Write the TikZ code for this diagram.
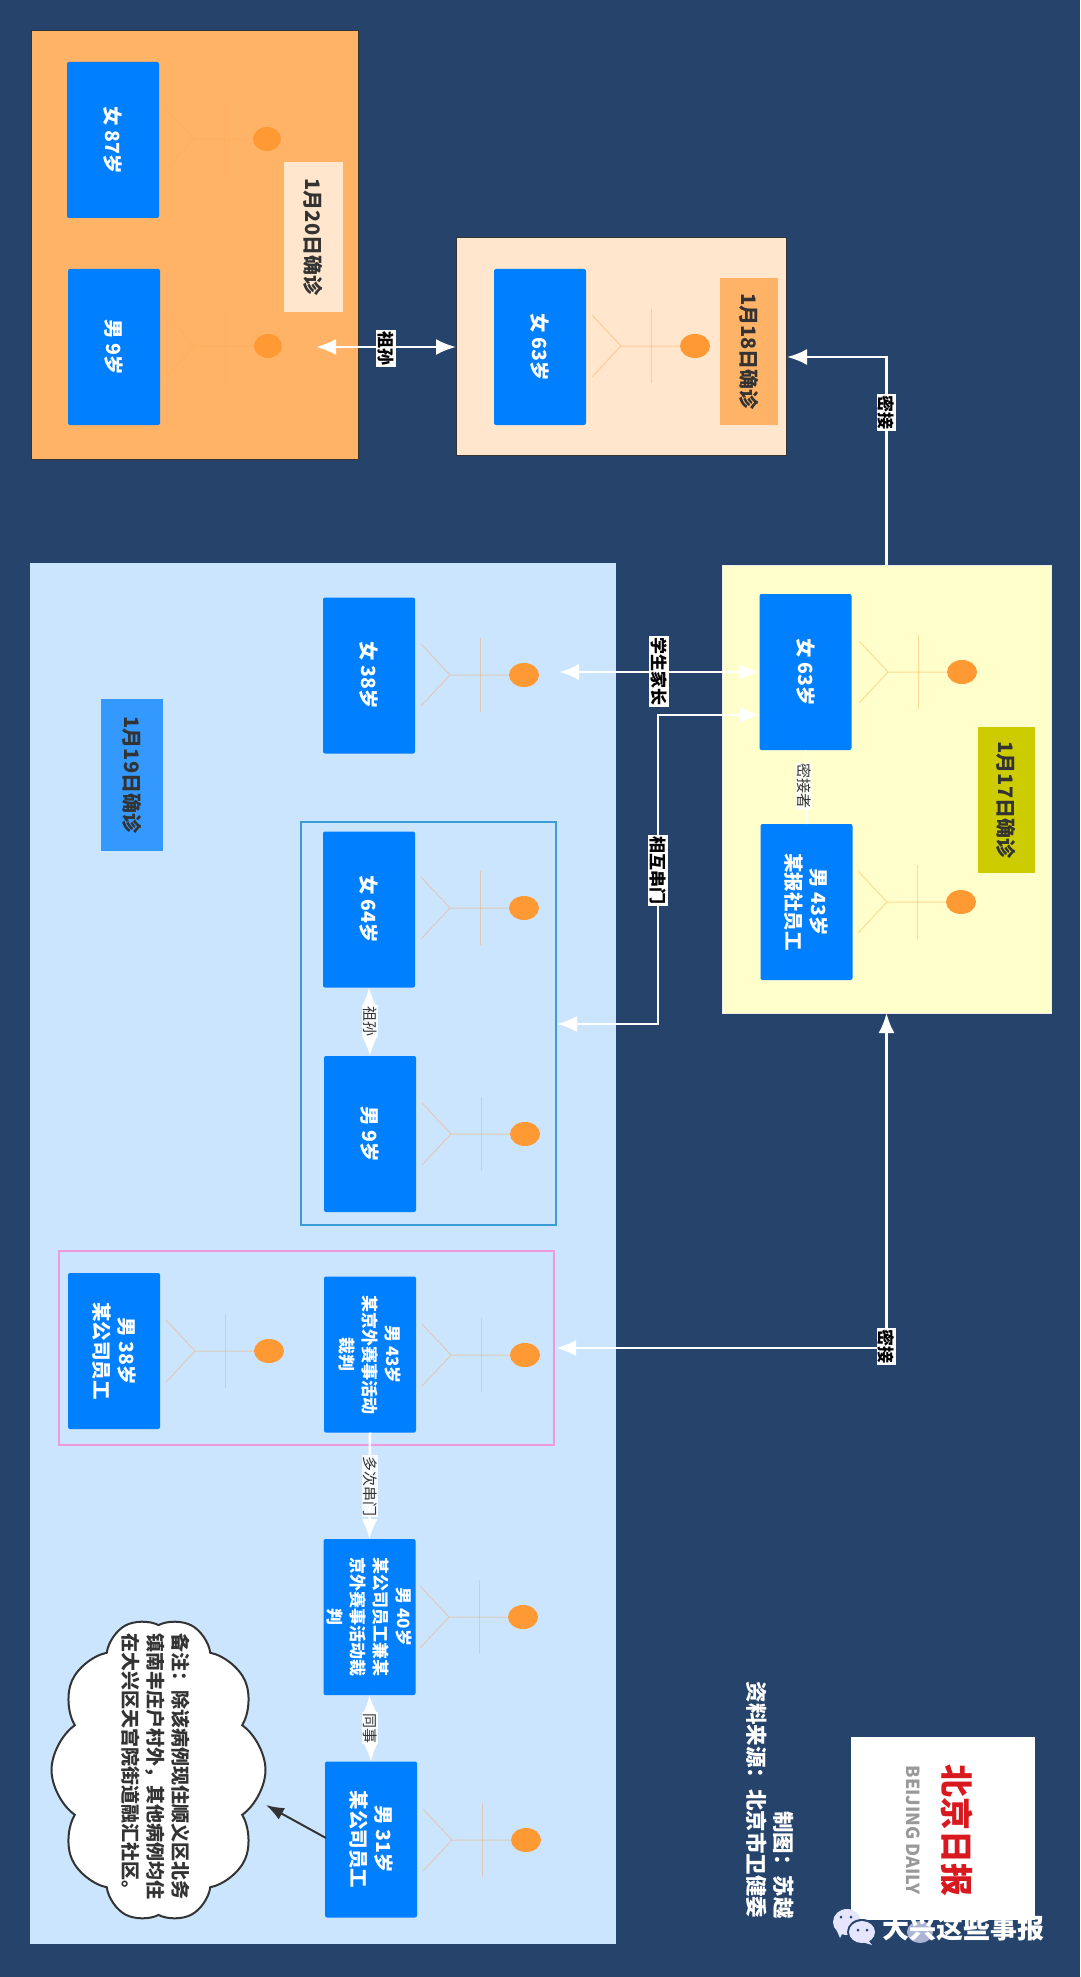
\documentclass[tikz,border=0pt]{standalone}
\usepackage{fontspec}
\setmainfont{Noto Sans CJK SC}
\usetikzlibrary{arrows.meta,shapes.geometric,shapes.symbols}

\definecolor{page}{HTML}{25436B}
\definecolor{group_orange}{HTML}{FFB366}
\definecolor{group_peach}{HTML}{FFE6CC}
\definecolor{group_yellow}{HTML}{FFFFCC}
\definecolor{group_blue}{HTML}{CCE5FF}
\definecolor{box_blue}{HTML}{007FFF}
\definecolor{head_orange}{HTML}{FF9933}
\definecolor{frame_teal}{HTML}{3B9DD3}
\definecolor{frame_pink}{HTML}{EE99DD}
\definecolor{ink}{HTML}{333333}

\begin{document}
\begin{tikzpicture}
  [x=1pt, y=-1pt]
  \tikzstyle{group} = [rectangle, outer sep=0pt, inner sep=0pt];
  \tikzstyle{blue_box} = [rectangle, rotate=-90, fill=box_blue, rounded corners=2pt, outer sep=0pt, inner sep=0pt, minimum width=156pt, minimum height=92pt, text=white, align=center, font=\fontsize{19.5}{25}\selectfont\bfseries];
  \tikzstyle{long_box} = [blue_box, font=\fontsize{17}{23}\selectfont\bfseries];
  \tikzstyle{date_label} = [rectangle, rotate=-90, outer sep=0pt, inner sep=0pt, text=ink, font=\fontsize{20}{24}\selectfont\bfseries];
  \tikzstyle{head} = [ellipse, fill=head_orange, inner sep=0pt, outer sep=0pt, minimum width=30pt, minimum height=24pt];
  \tikzstyle{stick} = [draw=head_orange, line width=1pt, opacity=0.35];
  \tikzstyle{faint_stick} = [stick, opacity=0.12];
  \tikzstyle{link} = [draw=white, line width=2.5pt, -{Latex[length=20pt,width=16pt]}];
  \tikzstyle{both_link} = [draw=white, line width=2.5pt, {Latex[length=20pt,width=16pt]}-{Latex[length=20pt,width=16pt]}];
  \tikzstyle{edge_label} = [rectangle, rotate=-90, fill=white, inner sep=1.5pt, outer sep=0pt, text=black, font=\fontsize{17}{20}\selectfont\bfseries];
  \tikzstyle{small_label} = [rectangle, rotate=-90, fill=white, fill opacity=0.85, text opacity=1, inner sep=1pt, outer sep=0pt, text=ink, font=\fontsize{15}{18}\selectfont];
  \tikzstyle{credit} = [rotate=-90, inner sep=0pt, outer sep=0pt, text=white, font=\fontsize{21.5}{26}\selectfont\bfseries];

  \fill[page] (0, 0) rectangle (1080, 1977);

  % groups
  \node[group, fill=group_orange, draw=ink, line width=1pt, minimum width=327pt, minimum height=428pt] (grp20) at (194.5, 245) {};
  \node[group, fill=group_peach, draw=ink, line width=1pt, minimum width=330pt, minimum height=217pt] (grp18) at (621, 346.5) {};
  \node[group, fill=group_yellow, draw=white!85!gray, line width=1pt, minimum width=329pt, minimum height=448pt] (grp17) at (886.5, 789) {};
  \node[group, fill=group_blue, minimum width=586pt, minimum height=1381pt] (grp19) at (323, 1253.5) {};
  \node[group, draw=frame_teal, line width=2pt, minimum width=255pt, minimum height=403pt] (family) at (428.5, 1023.5) {};
  \node[group, draw=frame_pink, line width=2pt, minimum width=495pt, minimum height=194pt] (referee) at (306.5, 1348) {};

  % date labels
  \node[date_label, fill=group_peach, minimum width=150pt, minimum height=59pt] (d20) at (313.5, 237) {1月20日确诊};
  \node[date_label, fill=group_orange, minimum width=147pt, minimum height=58pt] (d18) at (749, 351.5) {1月18日确诊};
  \node[date_label, fill={rgb,255:red,204;green,204;blue,0}, minimum width=146pt, minimum height=57pt] (d17) at (1006.5, 800) {1月17日确诊};
  \node[date_label, fill={rgb,255:red,51;green,153;blue,255}, minimum width=152pt, minimum height=62pt] (d19) at (132, 775) {1月19日确诊};

  % people
  \node[head, minimum width=28pt] (h_f87) at (267, 139) {};
  \draw[faint_stick] (h_f87.west) -- ++(-59, 0) -- ++(-29, -31) ++(29, 31) -- ++(-29, 31);
  \draw[faint_stick] (h_f87.west) ++(-29, -37) -- ++(0, 74);
  \node[blue_box] (f87) at (113, 140) {女 87岁};

  \node[head, minimum width=28pt] (h_m9a) at (268, 346) {};
  \draw[faint_stick] (h_m9a.west) -- ++(-59, 0) -- ++(-29, -31) ++(29, 31) -- ++(-29, 31);
  \draw[faint_stick] (h_m9a.west) ++(-29, -37) -- ++(0, 74);
  \node[blue_box] (m9a) at (114, 347) {男 9岁};

  \node[head] (h_f63a) at (695, 346) {};
  \draw[stick] (h_f63a.west) -- ++(-59, 0) -- ++(-29, -31) ++(29, 31) -- ++(-29, 31);
  \draw[stick] (h_f63a.west) ++(-29, -37) -- ++(0, 74);
  \node[blue_box] (f63a) at (540, 347) {女 63岁};

  \node[head] (h_f63b) at (962, 672) {};
  \draw[stick] (h_f63b.west) -- ++(-59, 0) -- ++(-29, -31) ++(29, 31) -- ++(-29, 31);
  \draw[stick] (h_f63b.west) ++(-29, -37) -- ++(0, 74);
  \node[blue_box] (f63b) at (805.5, 672) {女 63岁};

  \node[head] (h_m43a) at (961, 902) {};
  \draw[stick] (h_m43a.west) -- ++(-59, 0) -- ++(-29, -31) ++(29, 31) -- ++(-29, 31);
  \draw[stick] (h_m43a.west) ++(-29, -37) -- ++(0, 74);
  \node[blue_box] (m43a) at (806.5, 902) {男 43岁\\某报社员工};

  \node[head] (h_f38) at (524, 675) {};
  \draw[stick] (h_f38.west) -- ++(-59, 0) -- ++(-29, -31) ++(29, 31) -- ++(-29, 31);
  \draw[stick] (h_f38.west) ++(-29, -37) -- ++(0, 74);
  \node[blue_box] (f38) at (369, 675.5) {女 38岁};

  \node[head] (h_f64) at (524, 908) {};
  \draw[stick] (h_f64.west) -- ++(-59, 0) -- ++(-29, -31) ++(29, 31) -- ++(-29, 31);
  \draw[stick] (h_f64.west) ++(-29, -37) -- ++(0, 74);
  \node[blue_box] (f64) at (369, 909.5) {女 64岁};

  \node[head] (h_m9b) at (525, 1134) {};
  \draw[stick] (h_m9b.west) -- ++(-59, 0) -- ++(-29, -31) ++(29, 31) -- ++(-29, 31);
  \draw[stick] (h_m9b.west) ++(-29, -37) -- ++(0, 74);
  \node[blue_box] (m9b) at (370, 1134) {男 9岁};

  \node[head] (h_m38) at (269, 1351) {};
  \draw[stick] (h_m38.west) -- ++(-59, 0) -- ++(-29, -31) ++(29, 31) -- ++(-29, 31);
  \draw[stick] (h_m38.west) ++(-29, -37) -- ++(0, 74);
  \node[blue_box] (m38) at (114, 1351) {男 38岁\\某公司员工};

  \node[head] (h_m43b) at (525, 1355) {};
  \draw[stick] (h_m43b.west) -- ++(-59, 0) -- ++(-29, -31) ++(29, 31) -- ++(-29, 31);
  \draw[stick] (h_m43b.west) ++(-29, -37) -- ++(0, 74);
  \node[long_box] (m43b) at (370, 1354.5) {男 43岁\\某京外赛事活动\\裁判};

  \node[head] (h_m40) at (523, 1617) {};
  \draw[stick] (h_m40.west) -- ++(-59, 0) -- ++(-29, -31) ++(29, 31) -- ++(-29, 31);
  \draw[stick] (h_m40.west) ++(-29, -37) -- ++(0, 74);
  \node[long_box] (m40) at (369.5, 1617) {男 40岁\\某公司员工兼某\\京外赛事活动裁\\判};

  \node[head] (h_m31) at (526, 1840) {};
  \draw[stick] (h_m31.west) -- ++(-59, 0) -- ++(-29, -31) ++(29, 31) -- ++(-29, 31);
  \draw[stick] (h_m31.west) ++(-29, -37) -- ++(0, 74);
  \node[blue_box] (m31) at (371, 1839.5) {男 31岁\\某公司员工};

  % note
  \node[cloud, cloud puffs=10, cloud puff arc=110, aspect=1.42, rotate=-90, fill=white, draw=ink, line width=2pt, inner sep=0pt, outer sep=0pt, minimum width=304pt, minimum height=214pt] (note) at (158.5, 1770) {};
  \node[rotate=-90, align=left, inner sep=0pt, text=ink, font=\fontsize{19}{25}\selectfont\bfseries] (note_text) at (156, 1766) {备注：除该病例现住顺义区北务\\镇南丰庄户村外，其他病例均住\\在大兴区天宫院街道融汇社区。};

  % connectors
  \coordinate (tip20) at (316, 347);
  \coordinate (in18) at (787, 357);
  \coordinate (in38) at (559, 672);
  \coordinate (out_f63) at (760, 715);
  \coordinate (lane) at (658, 870);
  \coordinate (in64) at (557, 1024);
  \coordinate (in43) at (556, 1348);
  \coordinate (out_m31) at (326, 1838);
  \coordinate (in_note) at (266, 1805);

  \draw[both_link] (tip20) -- (tip20 -| grp18.west);
  \draw[link] (grp17.north) |- (in18);
  \draw[both_link] (f63b.south) -- (in38);
  \draw[both_link] (out_f63) -| (lane) |- (in64);
  \draw[both_link] (grp17.south) |- (in43);
  \draw[draw=white, line width=1pt] (f63b.east) -- (m43a.west);
  \draw[both_link] (f64.east) -- (m9b.west);
  \draw[link] (m43b.east) -- (m40.west);
  \draw[both_link] (m40.east) -- (m31.west);
  \draw[draw=ink, line width=2pt, -{Latex[length=18pt,width=13pt]}] (out_m31) -- (in_note);

  % connector labels
  \node[edge_label] (l_kin) at (386, 348) {祖孙};
  \node[edge_label] (l_close1) at (886.5, 412) {密接};
  \node[edge_label] (l_parent) at (659, 671) {学生家长};
  \node[edge_label] (l_visit) at (lane) {相互串门};
  \node[edge_label] (l_close2) at (886.5, 1346) {密接};
  \node[small_label] (l_contact) at (804, 786) {密接者};
  \node[small_label] (l_kin2) at (370, 1021) {祖孙};
  \node[small_label] (l_often) at (370, 1486) {多次串门};
  \node[small_label] (l_mate) at (370, 1728) {同事};

  % credits
  \node[credit] (source) at (757, 1800) {资料来源：北京市卫健委};
  \node[credit] (maker) at (784, 1865) {制图：苏越};

  % logo and watermark
  \node[group, fill=white, minimum width=184pt, minimum height=183pt] (logo) at (943, 1828.5) {};
  \node[rotate=-90, inner sep=0pt, text={rgb,255:red,216;green,25;blue,31}, font=\fontsize{33}{36}\selectfont\bfseries] (logo_cn) at (957, 1830) {北京日报};
  \node[rotate=-90, inner sep=0pt, text=gray!80, font=\fontsize{18}{20}\selectfont\bfseries] (logo_en) at (913, 1830) {BEIJING DAILY};

  \fill[white!90!blue] (847, 1922) ellipse (14 and 13);
  \fill[white!90!blue] (837, 1931) -- (843, 1932) -- (840, 1938) -- cycle;
  \fill[page] (862, 1932) ellipse (15 and 13);
  \fill[white!90!blue] (862, 1932) ellipse (13 and 11);
  \fill[white!90!blue] (868, 1940) -- (872, 1945) -- (862, 1942) -- cycle;
  \fill[page] (841, 1917) circle (1.5);
  \fill[page] (851, 1917) circle (1.5);
  \fill[page] (858, 1930) circle (1.5);
  \fill[page] (867, 1930) circle (1.5);
  \fill[white!90!blue, opacity=0.7] (920, 1932) ellipse (13 and 11);
  \node[inner sep=0pt, text=white, font=\fontsize{27}{30}\selectfont\bfseries] (mark) at (963, 1928) {大兴这些事报};
\end{tikzpicture}
\end{document}
